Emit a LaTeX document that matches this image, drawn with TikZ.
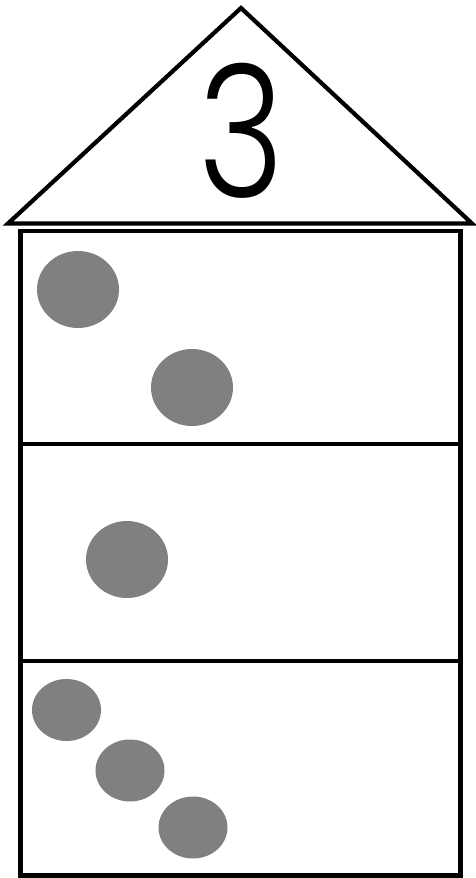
\documentclass[tikz,border=0pt]{standalone}
\usepackage{fontspec}
\newfontfamily\digitfont{Poppins Light}
\usepackage{tikz}
\usetikzlibrary{calc}

\begin{document}
\begin{tikzpicture}[
  x=1pt, y=-1pt,
  roof/.style  = {draw, line width=4.2pt, line join=miter},
  wall/.style  = {draw, line width=4.8pt},
  floor/.style = {draw, line width=4.2pt},
  dot/.style   = {fill=black!50},
]
\useasboundingbox (0,0) rectangle (476,878);

% ----------------------------- roof ---------------------------------------
\coordinate (apex) at (241,8);
\coordinate (eaveL) at (8,223.5);
\coordinate (eaveR) at (472,223.5);
\draw[roof] (eaveL) -- (apex) -- (eaveR) -- cycle;
\node[inner sep=0pt, font=\digitfont\fontsize{184}{184}\selectfont] (num)
  at (242,131) {\scalebox{0.8}[1]{3}};

% ----------------------------- house --------------------------------------
\coordinate (tl) at (20.5,231);
\coordinate (br) at (460.5,875.5);
\draw[wall] (tl) rectangle (br);
\coordinate (d1) at (20.5,444);
\coordinate (d2) at (20.5,661);
\draw[floor] (d1) -- (d1 -| br);
\draw[floor] (d2) -- (d2 -| br);

% ----------------------------- dots ---------------------------------------
\fill[dot] (78,289.5) ellipse [x radius=41, y radius=38.5];
\fill[dot] (192,387.5) ellipse [x radius=41, y radius=38.5];
\fill[dot] (127,559.5) ellipse [x radius=41, y radius=38.5];
\fill[dot] (66.5,710) ellipse [x radius=34.5, y radius=31];
\fill[dot] (130,770.5) ellipse [x radius=34.5, y radius=31];
\fill[dot] (193,827.5) ellipse [x radius=34.5, y radius=31];

\end{tikzpicture}
\end{document}
